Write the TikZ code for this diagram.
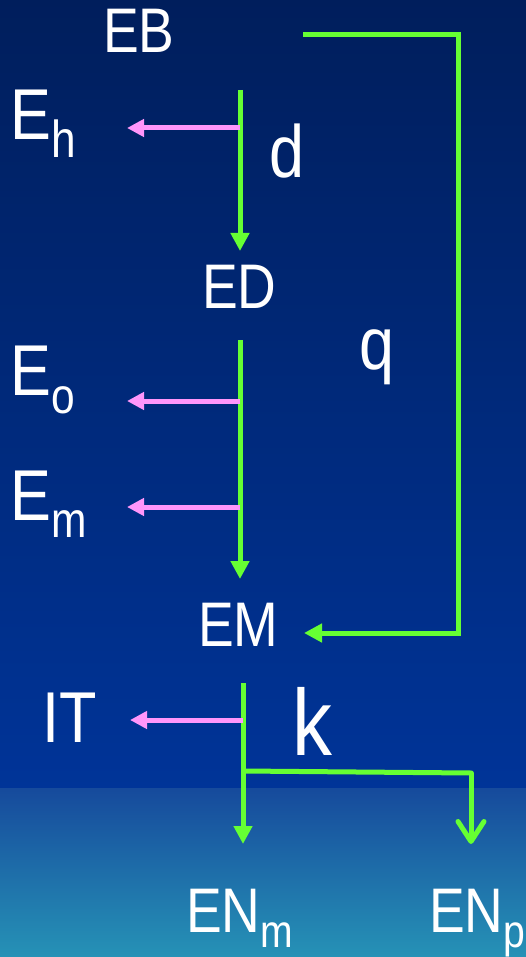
\documentclass[tikz,border=0pt]{standalone}
\usepackage{fontspec}
\setmainfont{Liberation Sans}
\usepackage{graphicx}
\usetikzlibrary{arrows.meta}
\definecolor{bgtop}{RGB}{0,30,92}
\definecolor{bgmid}{RGB}{0,52,152}
\definecolor{bglow}{RGB}{22,74,156}
\definecolor{bgbot}{RGB}{38,146,182}
\definecolor{grn}{RGB}{102,255,51}
\definecolor{pnk}{RGB}{255,150,250}
\newcommand{\lbl}[2]{\scalebox{0.85}[1]{\fontsize{#1}{#1}\selectfont #2}}
\newcommand{\sbs}[3]{\raisebox{-#1pt}{\fontsize{#2}{#2}\selectfont #3}}
\begin{document}
\begin{tikzpicture}[x=1pt,y=-1pt,
  lab/.style={text=white,inner sep=0pt,anchor=base west},
  garr/.style={draw=grn,line width=5pt,-{Triangle[length=18pt,width=18pt]}},
  gline/.style={draw=grn,line width=5pt},
  parr/.style={draw=pnk,line width=5pt,-{Triangle[length=17pt,width=17pt]}},
  varr/.style={draw=grn,line width=5pt,line cap=round,-{Straight Barb[length=20pt,width=26pt,round]}}]
\useasboundingbox (0,0) rectangle (526,957);
\shade[top color=bgtop,bottom color=bgmid] (0,0) rectangle (526,788);
\shade[top color=bglow,bottom color=bgbot] (0,788) rectangle (526,957);
% labels
\node[lab] (EB) at (103,53) {\lbl{63}{EB}};
\node[lab] (Eh) at (10,140) {\lbl{72}{E\sbs{18}{52}{h}}};
\node[lab] (d) at (269,178) {\lbl{74}{d}};
\node[lab] (ED) at (202,308) {\lbl{63}{ED}};
\node[lab] (q) at (359,369) {\lbl{74}{q}};
\node[lab] (Eo) at (10,395) {\lbl{72}{E\sbs{18}{50}{o}}};
\node[lab] (Em) at (10,520) {\lbl{72}{E\sbs{17}{50}{m}}};
\node[lab] (EM) at (198,646) {\lbl{63}{EM}};
\node[lab] (IT) at (42,742) {\lbl{72}{IT}};
\node[lab] (k) at (292,755) {\lbl{94}{k}};
\node[lab] (ENm) at (186,932) {\lbl{63}{EN\sbs{15}{46}{m}}};
\node[lab] (ENp) at (429,932) {\lbl{63}{EN\sbs{15}{46}{p}}};
% coordinates
\coordinate (d1) at (240,90);
\coordinate (d2) at (240,251);
\coordinate (h1) at (240,128);
\coordinate (h2) at (127,128);
\coordinate (q1) at (303,35);
\coordinate (q2) at (458,35);
\coordinate (q3) at (458,633);
\coordinate (q4) at (304,633);
\coordinate (m1) at (240,340);
\coordinate (m2) at (240,579);
\coordinate (o1) at (240,401);
\coordinate (o2) at (127,401);
\coordinate (e1) at (240,507);
\coordinate (e2) at (127,507);
\coordinate (k1) at (243,683);
\coordinate (k2) at (243,844);
\coordinate (t1) at (243,720);
\coordinate (t2) at (130,720);
\coordinate (b1) at (243,771);
\coordinate (b2) at (471,773);
\coordinate (b3) at (471,844);
% connectors
\draw[garr] (d1) -- (d2);
\draw[parr] (h1) -- (h2);
\draw[garr,line join=miter] (q1) -- (q2) -- (q3) -- (q4);
\draw[garr] (m1) -- (m2);
\draw[parr] (o1) -- (o2);
\draw[parr] (e1) -- (e2);
\draw[garr] (k1) -- (k2);
\draw[parr] (t1) -- (t2);
\draw[gline] (b1) -- (b2);
\draw[varr] (b2) -- (b3);
\end{tikzpicture}
\end{document}
